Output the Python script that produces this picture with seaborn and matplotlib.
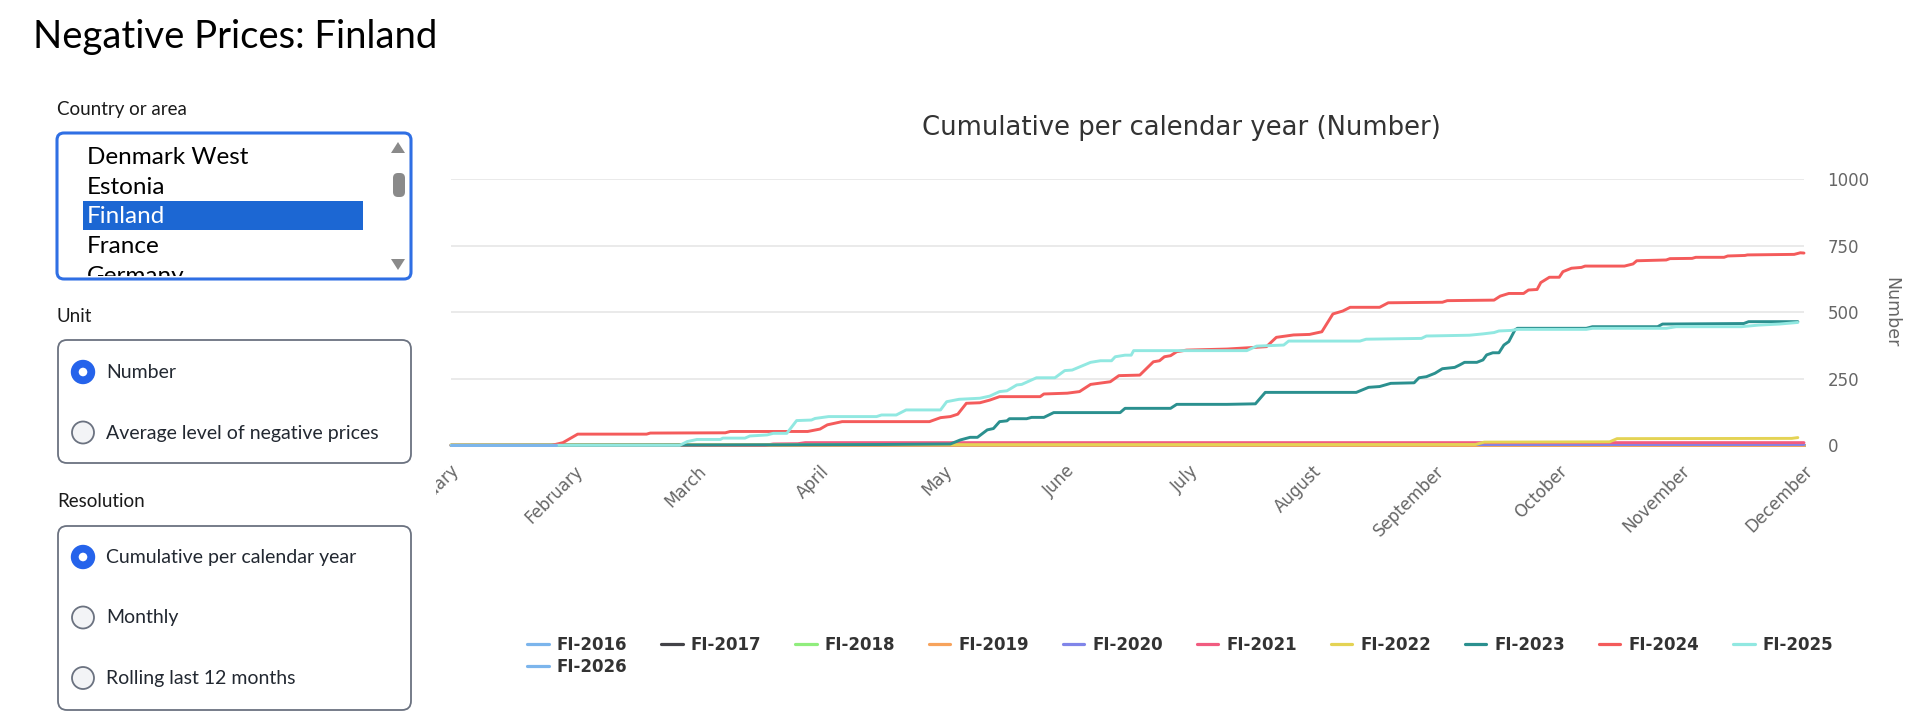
import pandas as pd
import seaborn as sns
import matplotlib.pyplot as plt
from matplotlib.lines import Line2D
from matplotlib.patches import FancyBboxPatch, Rectangle, Circle, Polygon
from matplotlib.font_manager import FontProperties
from matplotlib.transforms import Bbox

# Chart data (x = month position, 0 = January ... 11 = December)
MONTHS = ["January", "February", "March", "April", "May", "June", "July",
          "August", "September", "October", "November", "December"]

SERIES = ["FI-2016", "FI-2017", "FI-2018", "FI-2019", "FI-2020", "FI-2021",
          "FI-2022", "FI-2023", "FI-2024", "FI-2025", "FI-2026"]

COLORS = ["#7cb5ec", "#434348", "#90ed7d", "#f7a35c", "#8085e9", "#f15c80",
          "#e4d354", "#2b908f", "#f45b5b", "#91e8e1", "#7cb5ec"]

FI_2016_X = [0, 11]
FI_2016_Y = [0, 0]
FI_2017_X = [0, 11]
FI_2017_Y = [0, 0]
FI_2018_X = [0, 11]
FI_2018_Y = [0, 0]
FI_2019_X = [0, 11]
FI_2019_Y = [0, 0]
FI_2020_X = [0, 0.80, 0.86, 11]
FI_2020_Y = [0, 0, 2, 3]
FI_2021_X = [0, 2.55, 2.62, 2.82, 2.88, 11]
FI_2021_Y = [0, 0, 5, 6, 10, 10]
FI_2022_X = [0, 8.33, 8.40, 9.42, 9.48, 10.90, 10.95]
FI_2022_Y = [2, 3, 12, 13, 25, 26, 29]
FI_2023_X = [0, 1.90, 3.50, 4.06, 4.14, 4.22, 4.28, 4.36, 4.41, 4.46, 4.52, 4.54,
             4.68, 4.72, 4.82, 4.90, 5.44, 5.48, 5.85, 5.90, 6.31, 6.54, 6.62,
             7.36, 7.46, 7.55, 7.64, 7.83, 7.87, 7.93, 8.00, 8.06, 8.16, 8.20,
             8.24, 8.34, 8.39, 8.42, 8.47, 8.52, 8.56, 8.60, 8.65, 8.67, 9.23,
             9.28, 9.81, 9.85, 10.51, 10.55, 10.95]
FI_2023_Y = [0, 1, 3, 5, 20, 30, 30, 58, 63, 89, 92, 100,
             100, 105, 105, 123, 123, 139, 139, 154, 154, 156, 199,
             199, 218, 221, 233, 235, 254, 258, 271, 288, 293, 302,
             312, 312, 321, 340, 348, 348, 377, 390, 434, 440, 440,
             446, 446, 456, 458, 465, 465]
FI_2024_X = [0, 0.82, 0.91, 1.03, 1.59, 1.62, 2.23, 2.27, 2.90, 3.00, 3.06, 3.18,
             3.89, 3.98, 4.06, 4.12, 4.19, 4.30, 4.38, 4.46, 4.79, 4.82, 5.01,
             5.11, 5.20, 5.36, 5.43, 5.60, 5.71, 5.76, 5.80, 5.85, 5.90, 5.98,
             6.31, 6.63, 6.71, 6.85, 6.98, 7.08, 7.17, 7.25, 7.31, 7.55, 7.62,
             8.06, 8.10, 8.48, 8.53, 8.60, 8.72, 8.76, 8.83, 8.86, 8.93, 9.01,
             9.04, 9.11, 9.19, 9.22, 9.54, 9.61, 9.64, 9.88, 9.91, 10.09, 10.12,
             10.35, 10.38, 10.52, 10.54, 10.92, 10.97, 11.0]
FI_2024_Y = [0, 0, 10, 42, 42, 46, 47, 52, 52, 61, 77, 89,
             89, 104, 108, 117, 158, 160, 170, 183, 183, 193, 196,
             202, 229, 239, 262, 264, 314, 318, 333, 337, 352, 358,
             362, 371, 406, 415, 417, 427, 494, 505, 519, 519, 536,
             538, 544, 546, 561, 571, 571, 584, 586, 612, 632, 632,
             653, 666, 669, 674, 674, 682, 694, 697, 702, 703, 707,
             707, 712, 714, 716, 718, 724, 723]
FI_2025_X = [0, 1.86, 1.92, 2.00, 2.19, 2.21, 2.39, 2.43, 2.57, 2.62, 2.73, 2.81,
             2.93, 2.96, 3.07, 3.46, 3.50, 3.62, 3.70, 3.98, 4.03, 4.13, 4.30,
             4.38, 4.46, 4.52, 4.60, 4.64, 4.76, 4.91, 4.99, 5.05, 5.20, 5.28,
             5.37, 5.40, 5.48, 5.53, 5.55, 6.47, 6.55, 6.77, 6.81, 7.39, 7.44,
             7.89, 7.93, 8.28, 8.39, 8.48, 8.52, 8.62, 8.67, 9.23, 9.28, 9.88,
             9.96, 10.49, 10.63, 10.80, 10.95]
FI_2025_Y = [0, 0, 14, 22, 22, 27, 27, 35, 39, 45, 45, 93,
             95, 101, 108, 108, 114, 114, 133, 133, 164, 173, 177,
             185, 202, 205, 227, 229, 254, 254, 281, 283, 312, 318,
             318, 333, 339, 339, 356, 356, 373, 377, 392, 392, 399,
             402, 411, 414, 419, 424, 430, 432, 436, 436, 440, 440,
             446, 446, 452, 456, 462]
FI_2026_X = [0, 0.85]
FI_2026_Y = [0, 0]

SERIES_X = [FI_2016_X, FI_2017_X, FI_2018_X, FI_2019_X, FI_2020_X, FI_2021_X,
            FI_2022_X, FI_2023_X, FI_2024_X, FI_2025_X, FI_2026_X]
SERIES_Y = [FI_2016_Y, FI_2017_Y, FI_2018_Y, FI_2019_Y, FI_2020_Y, FI_2021_Y,
            FI_2022_Y, FI_2023_Y, FI_2024_Y, FI_2025_Y, FI_2026_Y]

Y_TICKS = [0, 250, 500, 750, 1000]

# Side panel content
PAGE_TITLE = "Negative Prices: Finland"
COUNTRY_OPTIONS = ["Denmark West", "Estonia", "Finland", "France", "Germany"]
SELECTED_COUNTRY = "Finland"
UNIT_OPTIONS = ["Number", "Average level of negative prices"]
SELECTED_UNIT = "Number"
RESOLUTION_OPTIONS = ["Cumulative per calendar year", "Monthly", "Rolling last 12 months"]
SELECTED_RESOLUTION = "Cumulative per calendar year"

W, H = 1920, 715
UI_FONT = "Lato"


def rounded_box(ax, x, y, w, h, r, ec, lw, fc="white"):
    box = FancyBboxPatch((x, y), w, h, boxstyle=f"round,pad=0,rounding_size={r}",
                         ec=ec, fc=fc, lw=lw)
    ax.add_patch(box)
    return box


def radio(ax, cx, cy, selected):
    if selected:
        ax.add_patch(Circle((cx, cy), 11.5, fc="#2563eb", ec="#2563eb", lw=1))
        ax.add_patch(Circle((cx, cy), 4.3, fc="white", ec="none"))
    else:
        ax.add_patch(Circle((cx, cy), 11, fc="#f3f4f6", ec="#6b7280", lw=1.3))


def draw_panel(ui):
    ui.text(33, 48, PAGE_TITLE, family=UI_FONT, fontsize=27.5, color="black", va="baseline")

    # Country list box
    ui.text(57, 115, "Country or area", family=UI_FONT, fontsize=13.5, color="#1a1a1a", va="baseline")
    rounded_box(ui, 57, 133, 354, 146, 7, "#2f6fe4", 2.2)
    clip = Rectangle((57, 133), 354, 143, fc="none", ec="none")
    ui.add_patch(clip)
    ui.add_patch(Rectangle((83, 201), 280, 29, fc="#1c67d3", ec="none"))
    for i, name in enumerate(COUNTRY_OPTIONS):
        sel = name == SELECTED_COUNTRY
        t = ui.text(87, 164 + 29.7 * i, name, family=UI_FONT, fontsize=17.5,
                    color="white" if sel else "black", va="baseline")
        t.set_clip_path(clip)
        t.set_clip_on(True)
    ui.add_patch(Polygon([[391, 153], [405, 153], [398, 142]], fc="#8a8a8a", ec="none"))
    ui.add_patch(FancyBboxPatch((393, 173), 12, 24, boxstyle="round,pad=0,rounding_size=5",
                                fc="#8a8a8a", ec="none"))
    ui.add_patch(Polygon([[391, 259], [405, 259], [398, 270]], fc="#8a8a8a", ec="none"))

    # Unit radio group
    ui.text(57, 322, "Unit", family=UI_FONT, fontsize=13.5, color="#1a1a1a", va="baseline")
    rounded_box(ui, 58, 340, 353, 123, 9, "#6b7280", 1.3)
    for i, name in enumerate(UNIT_OPTIONS):
        cy = 372 + 60.5 * i
        radio(ui, 83, cy, name == SELECTED_UNIT)
        ui.text(106, cy + 6, name, family=UI_FONT, fontsize=14, color="#222831", va="baseline")

    # Resolution radio group
    ui.text(57, 507, "Resolution", family=UI_FONT, fontsize=13.5, color="#1a1a1a", va="baseline")
    rounded_box(ui, 58, 526, 353, 184, 9, "#6b7280", 1.3)
    for i, name in enumerate(RESOLUTION_OPTIONS):
        cy = 557 + 60.5 * i
        radio(ui, 83, cy, name == SELECTED_RESOLUTION)
        ui.text(106, cy + 6, name, family=UI_FONT, fontsize=14, color="#222831", va="baseline")


def main():
    sns.set_theme(style="white")
    plt.rcParams["font.family"] = ["DejaVu Sans"]

    fig = plt.figure(figsize=(W / 100, H / 100), dpi=100)
    fig.patch.set_facecolor("white")

    ui = fig.add_axes([0, 0, 1, 1])
    ui.set_xlim(0, W)
    ui.set_ylim(H, 0)
    ui.axis("off")
    draw_panel(ui)

    # Chart area
    left, right, top, bottom = 451, 1804, 179.4, 445.3
    ax = fig.add_axes([left / W, 1 - bottom / H, (right - left) / W, (bottom - top) / H])
    ax.patch.set_alpha(0)

    rows = []
    for name, xs, ys in zip(SERIES, SERIES_X, SERIES_Y):
        for x, y in zip(xs, ys):
            rows.append({"series": name, "month": x, "value": y})
    df = pd.DataFrame(rows)

    sns.lineplot(data=df, x="month", y="value", hue="series", hue_order=SERIES,
                 palette=dict(zip(SERIES, COLORS)), estimator=None, sort=False,
                 linewidth=2.1, legend=False, ax=ax)
    for line in ax.lines:
        line.set_clip_on(False)
        line.set_solid_joinstyle("round")

    ax.set_xlim(0, 11)
    ax.set_ylim(0, 1000)
    ax.set_yticks(Y_TICKS)
    ax.yaxis.tick_right()
    ax.yaxis.grid(True, color="#e6e6e6", lw=1.2)
    ax.xaxis.grid(False)
    ax.set_axisbelow(True)
    for s in ["top", "left", "right", "bottom"]:
        ax.spines[s].set_visible(False)
    ax.tick_params(axis="y", length=0, pad=17, labelsize=12, labelcolor="#666666",
                   labelright=True, labelleft=False)
    ax.set_xticks(range(len(MONTHS)))
    ax.set_xticklabels(MONTHS, rotation=45, ha="right", va="top", rotation_mode="anchor")
    ax.tick_params(axis="x", length=0, pad=12, labelsize=12, labelcolor="#666666")
    ax.set_xlabel("")
    ax.set_ylabel("Number", rotation=270, fontsize=12.5, color="#666666")
    ax.yaxis.set_label_position("right")
    ax.yaxis.set_label_coords(1.071, 0.5)

    # January label is cut by the chart container edge
    ax.get_xticklabels()[0].set_clip_box(Bbox([[436, 0], [W, H]]))
    ax.get_xticklabels()[0].set_clip_on(True)

    ui.text(1181, 128, "Cumulative per calendar year (Number)", fontsize=18.6,
            color="#333333", ha="center", va="center")

    # Legend: FI-2026 wraps to the second row
    order = [0, 10, 1, 2, 3, 4, 5, 6, 7, 8, 9]
    handles = [Line2D([], [], color=COLORS[i], lw=2.3) for i in order]
    labels = [SERIES[i] for i in order]
    fig.legend(handles, labels, loc="upper left", bbox_to_anchor=(527 / W, 1 - 636 / H),
               ncol=10, frameon=False, prop=FontProperties(family="DejaVu Sans", weight="bold", size=12),
               labelcolor="#333333", handlelength=1.3, handletextpad=0.5, columnspacing=2.0,
               labelspacing=0.25, borderpad=0, borderaxespad=0)

    fig.savefig("out.png", dpi=100)
    plt.close(fig)


if __name__ == "__main__":
    main()
